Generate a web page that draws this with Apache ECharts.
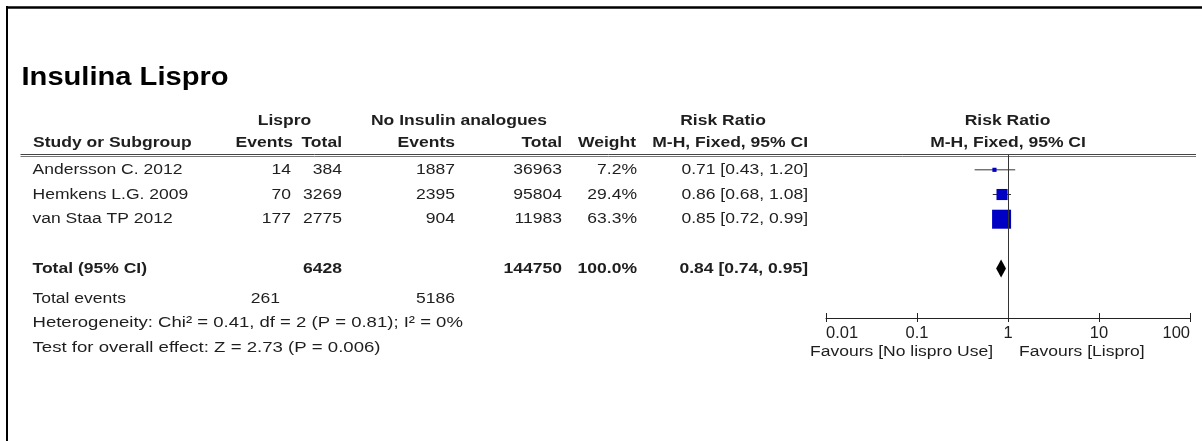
<!DOCTYPE html>
<html>
<head>
<meta charset="utf-8">
<script src="https://cdn.jsdelivr.net/npm/echarts@6/dist/echarts.min.js"></script>
<style>
html,body{margin:0;padding:0;background:#fff;}
#chart{width:1202px;height:441px;}
</style>
</head>
<body>
<div id="chart"></div>
<script>
// ---------------- data ----------------
const titleText = 'Insulina Lispro';
const studies = ['Andersson C. 2012', 'Hemkens L.G. 2009', 'van Staa TP 2012'];
const lisproEvents = [14, 70, 177];
const lisproTotal = [384, 3269, 2775];
const controlEvents = [1887, 2395, 904];
const controlTotal = [36963, 95804, 11983];
const weights = [7.2, 29.4, 63.3];
const rr = [0.71, 0.86, 0.85];
const rrLow = [0.43, 0.68, 0.72];
const rrHigh = [1.20, 1.08, 0.99];
const pooled = { label: 'Total (95% CI)', lisproTotal: 6428, controlTotal: 144750, weight: 100.0, rr: 0.84, low: 0.74, high: 0.95 };
const totalEvents = [261, 5186];
const heterogeneityText = 'Heterogeneity: Chi\u00b2 = 0.41, df = 2 (P = 0.81); I\u00b2 = 0%';
const overallText = 'Test for overall effect: Z = 2.73 (P = 0.006)';
const tickLabels = ['0.01', '0.1', '1', '10', '100'];
const favoursLeft = 'Favours [No lispro Use]';
const favoursRight = 'Favours [Lispro]';

// ---------------- style ----------------
const FONT = '"Liberation Sans", Arial, sans-serif';
const SX = 1.13;
const TXT = '#1e1e1e';
const BLUE = '#0000c4';

const chart = echarts.init(document.getElementById('chart'), null, { renderer: 'canvas' });

const fmt = (v, d) => v.toFixed(d);
const studyData = studies.map((s, i) => [rr[i], rrLow[i], rrHigh[i], i, weights[i]]);
const maxW = Math.max(...weights);
const totalRow = studies.length + 1;

chart.setOption({
  animation: false,
  grid: { left: 826, right: 12, top: 155, bottom: 123 },
  xAxis: [{
    type: 'log', logBase: 10, min: 0.01, max: 100, position: 'bottom',
    axisLine: { show: true, onZero: false, lineStyle: { color: '#222', width: 1 } },
    axisTick: { show: true, inside: true, length: 5, lineStyle: { color: '#222' } },
    minorTick: { show: false },
    splitLine: { show: false },
    axisLabel: {
      show: true, margin: 7, color: TXT, fontFamily: FONT, fontSize: 16.5,
      alignMinLabel: 'left', alignMaxLabel: 'right',
      formatter: v => tickLabels[Math.round(Math.log10(v)) + 2]
    }
  }, {
    type: 'log', logBase: 10, min: 0.01, max: 100, position: 'bottom', gridIndex: 0,
    axisLine: { show: false, onZero: false },
    axisTick: { show: true, inside: false, length: 4, lineStyle: { color: '#222' } },
    minorTick: { show: false },
    splitLine: { show: false },
    axisLabel: { show: false }
  }],
  yAxis: {
    type: 'value', inverse: true, min: -0.6, max: 6,
    show: false, splitLine: { show: false }
  },
  series: [{
    type: 'custom',
    name: 'studies',
    data: studyData,
    renderItem: (params, api) => {
      const est = api.coord([api.value(0), api.value(3)]);
      const lo = api.coord([api.value(1), api.value(3)]);
      const hi = api.coord([api.value(2), api.value(3)]);
      const size = 19 * Math.pow(api.value(4) / maxW, 0.7);
      return {
        type: 'group',
        children: [{
          type: 'line',
          shape: { x1: lo[0], y1: lo[1], x2: hi[0], y2: hi[1] },
          style: { stroke: '#333', lineWidth: 1 }
        }, {
          type: 'rect',
          shape: { x: est[0] - size / 2, y: est[1] - size / 2, width: size, height: size },
          style: { fill: BLUE }
        }]
      };
    },
    markLine: {
      silent: true, symbol: 'none', label: { show: false },
      lineStyle: { color: '#333', width: 1, type: 'solid' },
      data: [{ xAxis: 1 }]
    },
    z: 3
  }, {
    type: 'custom',
    name: 'pooled',
    data: [[pooled.rr, pooled.low, pooled.high, totalRow]],
    renderItem: (params, api) => {
      const c = api.coord([api.value(0), api.value(3)]);
      const l = api.coord([api.value(1), api.value(3)]);
      const r = api.coord([api.value(2), api.value(3)]);
      const h = 9;
      return {
        type: 'polygon',
        shape: { points: [[l[0], c[1]], [c[0], c[1] - h], [r[0], c[1]], [c[0], c[1] + h]] },
        style: { fill: '#000' }
      };
    },
    z: 4
  }]
});

// ---------------- table text ----------------
const rowY = v => chart.convertToPixel({ yAxisIndex: 0 }, v);
const els = [];
function txt(text, x, y, align, bold, sx) {
  els.push({
    type: 'text', x: x, y: y, scaleX: sx || SX, silent: true,
    style: {
      text: String(text), x: 0, y: 0,
      textAlign: align, textVerticalAlign: 'middle',
      font: (bold ? 'bold ' : '') + '15.5px ' + FONT,
      fill: TXT
    }
  });
}
// frame
els.push({ type: 'line', silent: true, shape: { x1: 6, y1: 7.5, x2: 1202, y2: 7.5 }, style: { stroke: '#000', lineWidth: 2.5 } });
els.push({ type: 'line', silent: true, shape: { x1: 7, y1: 6, x2: 7, y2: 441 }, style: { stroke: '#000', lineWidth: 2 } });
// title
els.push({
  type: 'text', x: 21.5, y: 77.5, scaleX: 1.12, silent: true,
  style: { text: titleText, x: 0, y: 0, textAlign: 'left', textVerticalAlign: 'middle', font: 'bold 26px ' + FONT, fill: '#000' }
});
// header rows
const h1 = 120.5, h2 = 143;
txt('Lispro', 284.5, h1, 'center', true);
txt('No Insulin analogues', 459, h1, 'center', true);
txt('Risk Ratio', 723, h1, 'center', true);
txt('Risk Ratio', 1007.5, h1, 'center', true);
txt('Study or Subgroup', 33, h2, 'left', true);
txt('Events', 293, h2, 'right', true);
txt('Total', 342, h2, 'right', true);
txt('Events', 455, h2, 'right', true);
txt('Total', 562, h2, 'right', true);
txt('Weight', 636, h2, 'right', true);
txt('M-H, Fixed, 95% CI', 808, h2, 'right', true);
txt('M-H, Fixed, 95% CI', 1008, h2, 'center', true);
// header rules
els.push({ type: 'line', silent: true, shape: { x1: 20.5, y1: 154.5, x2: 1196, y2: 154.5 }, style: { stroke: '#444', lineWidth: 1 } });
els.push({ type: 'line', silent: true, shape: { x1: 20.5, y1: 156.5, x2: 1196, y2: 156.5 }, style: { stroke: '#777', lineWidth: 1 } });
// study rows
studies.forEach((s, i) => {
  const y = rowY(i);
  txt(s, 32.5, y, 'left', false);
  txt(lisproEvents[i], 291, y, 'right', false);
  txt(lisproTotal[i], 342, y, 'right', false);
  txt(controlEvents[i], 455, y, 'right', false);
  txt(controlTotal[i], 562, y, 'right', false);
  txt(fmt(weights[i], 1) + '%', 637, y, 'right', false);
  txt(fmt(rr[i], 2) + ' [' + fmt(rrLow[i], 2) + ', ' + fmt(rrHigh[i], 2) + ']', 808, y, 'right', false);
});
// total row
const ty = rowY(totalRow);
txt(pooled.label, 32.5, ty, 'left', true);
txt(pooled.lisproTotal, 342, ty, 'right', true);
txt(pooled.controlTotal, 562, ty, 'right', true);
txt(fmt(pooled.weight, 1) + '%', 637, ty, 'right', true);
txt(fmt(pooled.rr, 2) + ' [' + fmt(pooled.low, 2) + ', ' + fmt(pooled.high, 2) + ']', 808, ty, 'right', true);
const ey = rowY(totalRow + 1.2);
txt('Total events', 32.5, ey, 'left', false);
txt(totalEvents[0], 280, ey, 'right', false);
txt(totalEvents[1], 455, ey, 'right', false);
txt(heterogeneityText, 32.5, rowY(totalRow + 2.2), 'left', false, 1.195);
txt(overallText, 32.5, rowY(totalRow + 3.2), 'left', false, 1.2);
// favours
txt(favoursLeft, 993, 352, 'right', false);
txt(favoursRight, 1019, 352, 'left', false);

chart.setOption({ graphic: { elements: els } });
</script>
</body>
</html>
